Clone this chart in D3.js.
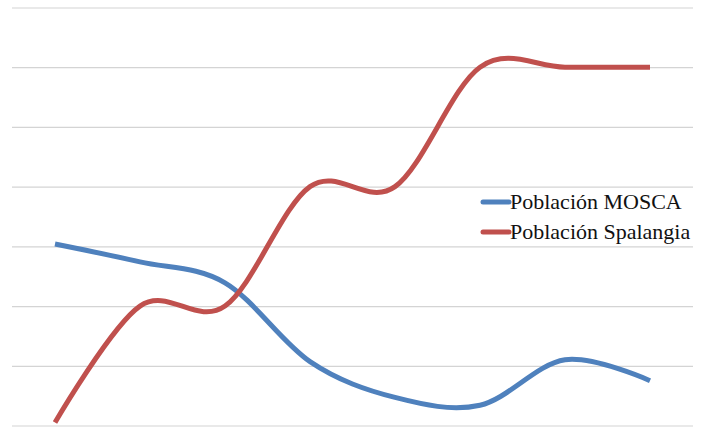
<!DOCTYPE html>
<html>
<head>
<meta charset="utf-8">
<script src="https://cdn.jsdelivr.net/npm/d3@7"></script>
<style>
  html, body { margin: 0; padding: 0; background: #fff; }
  svg { display: block; }
</style>
</head>
<body>
<svg id="chart" width="705" height="428"></svg>
<script>
// Data (category axis labels are not shown in the reference)
const categories = ["1", "2", "3", "4", "5", "6", "7", "8"];
const moscaValues = [3.04, 2.74, 2.39, 1.07, 0.47, 0.34, 1.10, 0.75];
const spalangiaValues = [0.05, 2, 2, 4, 4, 6, 6, 6];
const yTicks = [0, 1, 2, 3, 4, 5, 6, 7];
const seriesNames = ["Población MOSCA", "Población Spalangia"];
const seriesColors = ["#4F81BD", "#C0504D"];

const svg = d3.select("#chart");

const x = d3.scalePoint().domain(categories).range([12.5, 692.5]).padding(0.5);
const y = d3.scaleLinear().domain([0, 7]).range([425.5, 7.5]);

// Gridlines via axis
const grid = svg.append("g")
  .attr("transform", "translate(12,0)")
  .call(d3.axisLeft(y).tickValues(yTicks).tickSize(-681).tickFormat(""));
grid.select(".domain").remove();
grid.selectAll(".tick line").attr("stroke", "#d4d4d4").attr("stroke-width", 1.2);

const line = d3.line()
  .x((d, i) => x(categories[i]))
  .y(d => y(d))
  .curve(d3.curveCardinal.tension(0));

const series = [moscaValues, spalangiaValues];
series.forEach((vals, k) => {
  svg.append("path")
    .datum(vals)
    .attr("fill", "none")
    .attr("stroke", seriesColors[k])
    .attr("stroke-width", 5)
    .attr("stroke-linejoin", "round")
    .attr("d", line);
});

// Legend
const legend = svg.append("g").attr("transform", "translate(483,202)");
seriesNames.forEach((name, k) => {
  const g = legend.append("g").attr("transform", `translate(0,${k * 30})`);
  g.append("line")
    .attr("x1", 0).attr("x2", 26).attr("y1", 0).attr("y2", 0)
    .attr("stroke", seriesColors[k]).attr("stroke-width", 5)
    .attr("stroke-linecap", "round");
  g.append("text")
    .attr("x", 27).attr("y", 7)
    .attr("font-family", "'Liberation Serif', 'DejaVu Serif', serif")
    .attr("font-size", 22)
    .attr("fill", "#111")
    .text(name);
});
</script>
</body>
</html>
